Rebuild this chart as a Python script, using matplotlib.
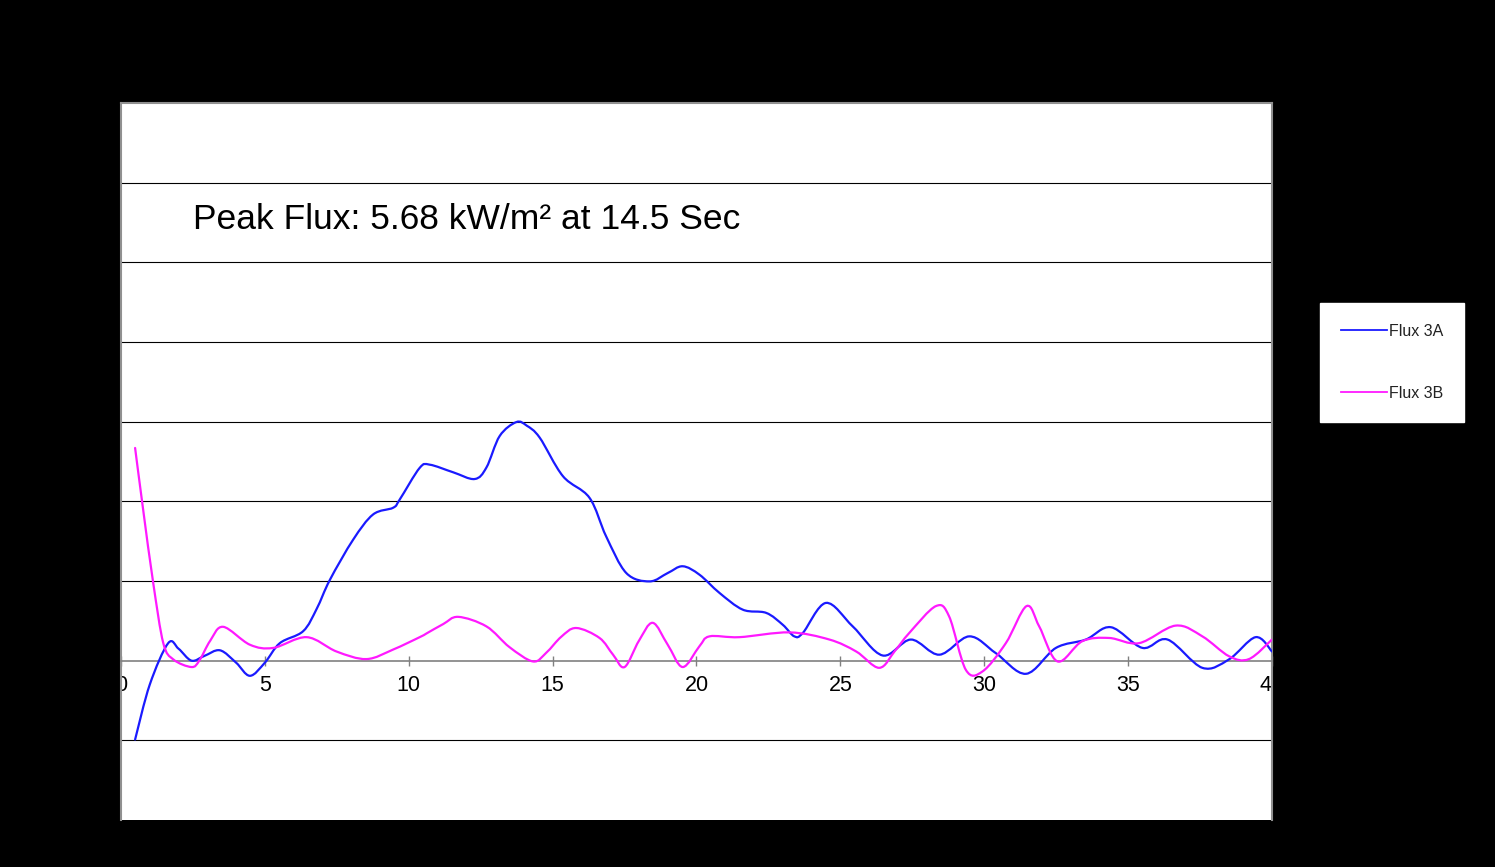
import matplotlib
matplotlib.use("Agg")
import matplotlib.pyplot as plt
from matplotlib.path import Path
from matplotlib.patches import PathPatch
from matplotlib.lines import Line2D

# ---- data ----
time_3a = [0.49, 1.0, 1.64, 2.0, 2.45, 2.9, 3.44, 4.0, 4.48, 5.0, 5.52, 6.33, 6.8, 7.26, 8.07,
           8.76, 9.46, 9.69, 10.38, 10.73, 11.54, 12.29, 12.7, 13.16, 13.74, 14.1, 14.55,
           15.36, 16.28, 16.86, 17.56, 18.37, 19.0, 19.52, 20.1, 20.8, 21.61, 22.42, 23.0,
           23.4, 23.7, 24.5, 25.43, 26.47, 27.45, 28.44, 29.48, 30.4, 31.45, 32.49, 33.53,
           34.4, 35.5, 36.37, 37.58, 38.5, 39.43, 40.0]
flux_3a = [-1.98, -0.6, 0.44, 0.3, 0.0, 0.12, 0.26, -0.05, -0.38, -0.05, 0.44, 0.74, 1.3, 2.03, 3.04,
           3.67, 3.84, 4.05, 4.84, 4.92, 4.73, 4.56, 4.85, 5.64, 5.99, 5.9, 5.6,
           4.63, 4.09, 3.12, 2.2, 1.99, 2.2, 2.37, 2.16, 1.70, 1.28, 1.2, 0.9,
           0.61, 0.7, 1.45, 0.86, 0.13, 0.53, 0.15, 0.61, 0.19, -0.33, 0.32, 0.53,
           0.84, 0.32, 0.53, -0.18, 0.03, 0.59, 0.23]

time_3b = [0.49, 0.77, 1.12, 1.47, 1.82, 2.45, 2.72, 3.1, 3.55, 4.48, 5.29, 6.45, 7.49, 8.53,
           9.46, 10.38, 10.61, 11.2, 11.72, 12.7, 13.5, 14.32, 14.78, 15.3, 15.82, 16.63, 17.1, 17.5,
           18.0, 18.48, 19.0, 19.52, 20.1, 20.45, 21.49, 23.23, 24.62, 25.55, 26.35, 26.9,
           27.4, 28.32, 28.78, 29.36, 29.94, 30.75, 31.47, 31.91, 32.55, 33.41, 34.34, 35.38,
           36.65, 37.58, 38.51, 39.2, 40.0]
flux_3b = [5.34, 3.79, 1.95, 0.44, 0.03, -0.16, 0.0, 0.5, 0.85, 0.40, 0.32, 0.59, 0.23, 0.04,
           0.28, 0.59, 0.68, 0.92, 1.10, 0.86, 0.34, -0.02, 0.2, 0.6, 0.82, 0.57, 0.15, -0.16,
           0.5, 0.95, 0.4, -0.16, 0.36, 0.61, 0.59, 0.71, 0.53, 0.23, -0.18, 0.25,
           0.70, 1.37, 1.11, -0.23, -0.27, 0.44, 1.37, 0.86, -0.02, 0.49, 0.57, 0.44,
           0.88, 0.61, 0.11, 0.04, 0.53]

series_labels = ["Flux 3A", "Flux 3B"]
series_colors = ["#1a1aff", "#ff19ff"]
x_ticks = [0, 5, 10, 15, 20, 25, 30, 35, 40]
annotation = "Peak Flux: 5.68 kW/m\u00b2 at 14.5 Sec"


def smooth_path(xs, ys):
    """Excel-style smoothed line: cubic Bezier segments through the data points."""
    pts = list(zip(xs, ys))
    n = len(pts)
    verts = [pts[0]]
    codes = [Path.MOVETO]
    for i in range(n - 1):
        p0 = pts[i - 1] if i > 0 else pts[i]
        p1 = pts[i]
        p2 = pts[i + 1]
        p3 = pts[i + 2] if i + 2 < n else pts[i + 1]
        c1 = (p1[0] + (p2[0] - p0[0]) / 6, p1[1] + (p2[1] - p0[1]) / 6)
        c2 = (p2[0] - (p3[0] - p1[0]) / 6, p2[1] - (p3[1] - p1[1]) / 6)
        verts += [c1, c2, p2]
        codes += [Path.CURVE4] * 3
    return Path(verts, codes)


# ---- figure ----
plt.rcParams["font.family"] = ["Liberation Sans", "DejaVu Sans"]
fig = plt.figure(figsize=(14.95, 8.67), dpi=100, facecolor="black")
ax = fig.add_axes([121 / 1495, 1 - 820 / 867, (1272 - 121) / 1495, (820 - 103) / 867])
ax.set_facecolor("white")

handles = []
for xs, ys, col, lab in [(time_3a, flux_3a, series_colors[0], series_labels[0]),
                         (time_3b, flux_3b, series_colors[1], series_labels[1])]:
    patch = PathPatch(smooth_path(xs, ys), facecolor="none", edgecolor=col, lw=1.6,
                      transform=ax.transData, zorder=3, capstyle="round", joinstyle="round")
    patch.set_clip_path(ax.patch)
    ax.add_patch(patch)
    handles.append(Line2D([], [], color=col, lw=1.3, label=lab))

ax.set_xlim(0, 40)
ax.set_ylim(-4, 14)
ax.set_yticks([-2, 2, 4, 6, 8, 10, 12])
ax.yaxis.grid(True, color="black", lw=0.8)
ax.tick_params(axis="y", length=0, labelleft=False)

ax.set_xticks(x_ticks)
ax.set_xticklabels([str(v) for v in x_ticks])
ax.spines["bottom"].set_position(("data", 0))
ax.spines["bottom"].set_color("#808080")
ax.spines["bottom"].set_linewidth(1.2)
for s in ["left", "right", "top"]:
    ax.spines[s].set_color("#909090")
    ax.spines[s].set_linewidth(1.5)
ax.tick_params(axis="x", direction="inout", length=7, width=1, color="#808080",
               labelsize=15.5, labelcolor="black", pad=7)

ax.text(2.5, 11.08, annotation, fontsize=25.5, color="black", ha="left", va="center")

leg = fig.legend(handles=handles, loc="upper left", bbox_to_anchor=(1320 / 1495, 1 - 303 / 867),
                 borderaxespad=0, frameon=True, fancybox=False, facecolor="white",
                 edgecolor="white", framealpha=1, fontsize=11.5, handlelength=2.9,
                 handletextpad=0.1, labelspacing=2.95, borderpad=1.3)
for t in leg.get_texts():
    t.set_color("#222222")

fig.savefig("out.png", dpi=100, facecolor="black")
